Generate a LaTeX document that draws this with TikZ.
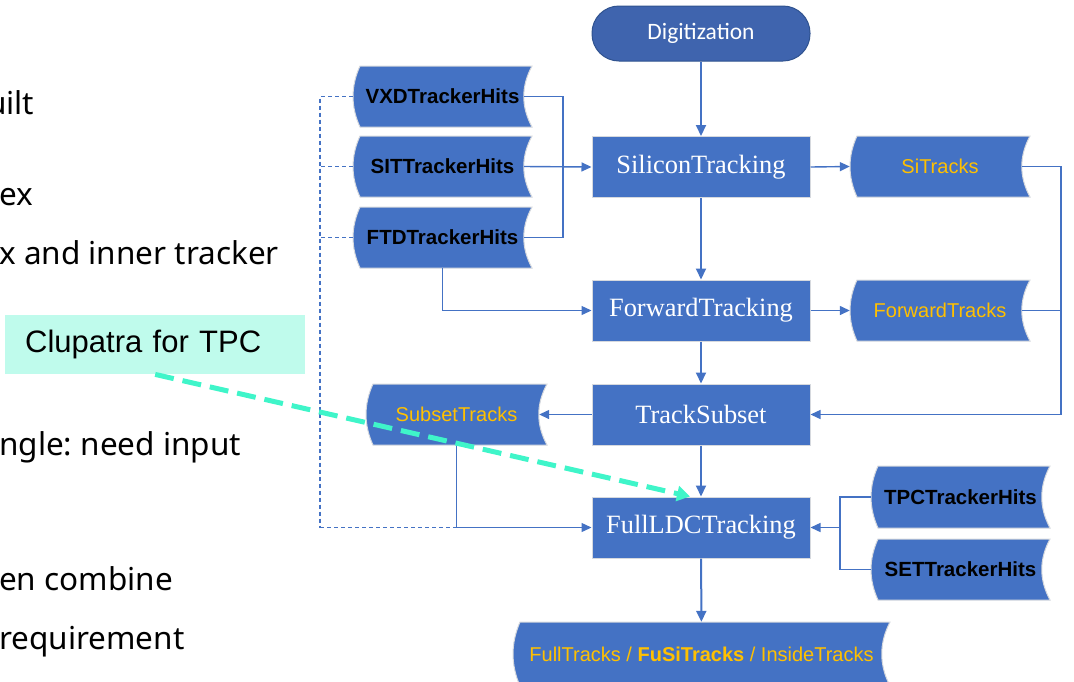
\documentclass[tikz,border=0pt]{standalone}
\usepackage{fontspec}
\setmainfont{Liberation Serif}
\newfontfamily\arialf{Liberation Sans}
\newfontfamily\calf{Carlito}
\newfontfamily\bodyf{Noto Sans}
\usetikzlibrary{arrows.meta}
\frenchspacing

\definecolor{boxblue}{HTML}{4472C4}
\definecolor{pillblue}{HTML}{3F64AE}
\definecolor{pillline}{HTML}{2F528F}
\definecolor{tracky}{HTML}{FFC000}
\definecolor{aqua}{HTML}{3FF5C9}
\definecolor{aquabg}{HTML}{BFFBEC}
\definecolor{rim}{HTML}{D6D9DE}

% stored-data shape: convex left side, concave right side
% #1 name, #2 x1, #3 y1, #4 x2, #5 y2, #6 label style, #7 label
\newcommand\storebox[7]{%
  \fill[boxblue, draw=rim, line width=1pt]
    ({#2+7},#3) -- (#4,#3)
    .. controls ({#4-11},{#3+(#5-#3)/3}) and ({#4-11},{#3+2*(#5-#3)/3}) .. (#4,#5)
    -- ({#2+7},#5)
    .. controls ({#2-2.3},{#3+2*(#5-#3)/3}) and ({#2-2.3},{#3+(#5-#3)/3}) .. ({#2+7},#3)
    -- cycle;
  \node[#6, minimum width={(#4-#2)*1pt}, minimum height={(#5-#3)*1pt}, inner sep=0pt]
    (#1) at ({(#2+#4)/2},{(#3+#5)/2}) {#7};
}

\tikzset{
  proc/.style={rectangle, fill=boxblue, draw=rim, line width=1pt,
    minimum width=218pt, minimum height=61pt, inner sep=0pt,
    text=white, font=\fontsize{26.4}{31}\selectfont},
  hitlab/.style={text=black, font=\arialf\bfseries\fontsize{20.5}{24}\selectfont},
  trklab/.style={text=tracky, font=\arialf\fontsize{20}{24}\selectfont},
  bodytext/.style={anchor=base west, inner sep=0pt, text=black,
    font=\bodyf\fontsize{31.5}{38}\selectfont},
  flow/.style={draw=boxblue, line width=1.4pt, -{Triangle[length=10pt,width=9pt]}},
  mainflow/.style={draw=boxblue, line width=2pt, -{Triangle[length=11pt,width=10pt]}},
  link/.style={draw=boxblue, line width=1.3pt},
  dlink/.style={link, dash pattern=on 4pt off 3pt},
  hint/.style={draw=aqua, line width=5pt, dash pattern=on 19pt off 9pt,
    -{Triangle[length=13pt,width=15pt,fill=aqua]}}
}

\begin{document}
\begin{tikzpicture}[x=1pt, y=-1pt]
\useasboundingbox (0,0) rectangle (1074,681);
\clip (0,0) rectangle (1074,681);

% slide text partly cut at the left edge
\node[bodytext] (t1) at (-13,114) {uilt};
\node[bodytext] (t2) at (-1,205) {ex};
\node[bodytext] (t3) at (-1,264) {x and inner tracker};
\node[bodytext] (t4) at (-1,455) {ngle: need input};
\node[bodytext] (t5) at (-1,590) {en combine};
\node[bodytext] (t6) at (-1,649) {requirement};

% processors
\node[rectangle, rounded corners=27pt, fill=pillblue, draw=pillline, line width=1pt,
  minimum width=218pt, minimum height=55pt, inner sep=0pt, text=white,
  font=\calf\fontsize{23.5}{28}\selectfont] (dig) at (701,33.5) {Digitization};
\node[proc] (sil) at (701,167) {SiliconTracking};
\node[proc] (fwd) at (701,310.5) {ForwardTracking};
\node[proc] (ts)  at (701,414.5) {TrackSubset};
\node[proc] (full) at (701,527.5) {FullLDCTracking};

% collections
\storebox{vxd}{353}{66}{532}{127}{hitlab}{VXDTrackerHits}
\storebox{sit}{353}{136}{532}{197}{hitlab}{SITTrackerHits}
\storebox{ftd}{353}{207}{532}{268}{hitlab}{FTDTrackerHits}
\storebox{sitr}{850}{136}{1030}{197}{trklab}{SiTracks}
\storebox{fwtr}{850}{280}{1030}{341}{trklab}{ForwardTracks}
\storebox{subt}{366}{384}{547}{445}{trklab}{SubsetTracks}
\storebox{tpc}{871}{466}{1050}{528}{hitlab}{TPCTrackerHits}
\storebox{set}{871}{539}{1050}{600}{hitlab}{SETTrackerHits}
\storebox{out}{513}{622}{890}{686}{trklab}{FullTracks / \textbf{FuSiTracks} / InsideTracks}

% junction points
\coordinate (jn1) at (563,167);
\coordinate (jn2) at (1061,414.5);
\coordinate (jn3) at (840,527.5);
\coordinate (dl) at (320,527.5);

% main chain
\draw[mainflow] (dig) -- (sil);
\draw[mainflow] (sil) -- (fwd);
\draw[mainflow] (fwd) -- (ts);
\draw[mainflow] (ts) -- (full);
\draw[mainflow] (full) -- (out);

% hits into SiliconTracking
\draw[link] ([xshift=-8pt]vxd.east) -| (jn1);
\draw[link] ([xshift=-8pt]ftd.east) -| (jn1);
\draw[flow] ([xshift=-8pt]sit.east) -- (sil.west);

% FTD hits into ForwardTracking
\draw[flow] (ftd.south) |- (fwd.west);

% outputs
\draw[flow] (sil.east) -- (sitr.west);
\draw[flow] (fwd.east) -- (fwtr.west);
\draw[link] ([xshift=-8pt]sitr.east) -| (jn2);
\draw[link] ([xshift=-8pt]fwtr.east) -- (fwtr.east -| jn2);
\draw[flow] (jn2) -- (ts.east);
\draw[flow] (ts.west) -- ([xshift=-8pt]subt.east);

% inputs of FullLDCTracking
\draw[dlink] (vxd.west) -| (dl);
\draw[dlink] (sit.west) -- (sit.west -| dl);
\draw[dlink] (ftd.west) -- (ftd.west -| dl);
\draw[dlink] (dl) -- (subt.south |- dl);
\draw[flow] (subt.south) |- (full.west);
\draw[link] (tpc.west) -| (jn3);
\draw[link] (set.west) -| (jn3);
\draw[flow] (jn3) -- (full.east);

% Clupatra note
\node[fill=aquabg, anchor=north west, minimum height=59pt, text width=260pt,
  inner xsep=20pt, inner ysep=0pt, align=left,
  font=\arialf\fontsize{31}{36}\selectfont] (clu) at (5,315) {Clupatra for TPC};
\draw[hint] (clu.south) -- ([xshift=-11pt]full.north);
\end{tikzpicture}
\end{document}
